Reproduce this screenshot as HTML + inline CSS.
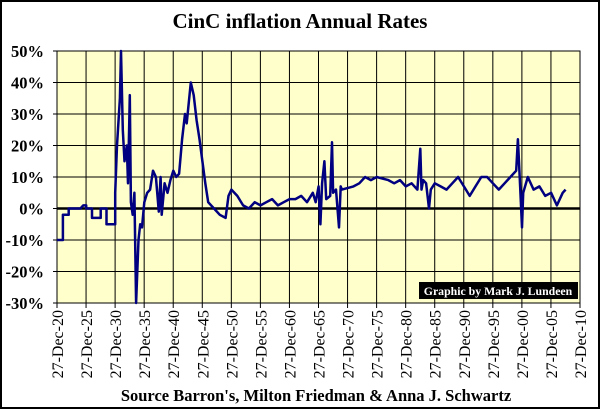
<!DOCTYPE html>
<html><head><meta charset="utf-8"><style>
body{margin:0;background:#fff}
svg text{font-family:"Liberation Serif",serif}
</style></head><body>
<svg width="600" height="409" xmlns="http://www.w3.org/2000/svg">
<rect x="1" y="1" width="598" height="407" fill="#fff" stroke="#000" stroke-width="2"/>
<text x="300" y="28" text-anchor="middle" font-size="21" font-weight="bold">CinC inflation Annual Rates</text>
<g id="plot"></g>
<text x="316" y="401" text-anchor="middle" font-size="16.5" font-weight="bold">Source Barron's,  Milton Friedman &amp; Anna J. Schwartz</text>
</svg>
<script>
const years=[1920.98,1922,1922,1923,1923,1925,1925.5,1926,1926,1927,1927,1928.5,1928.5,1929.5,1929.5,1931,1931,1931.3,1931.8,1932,1932.3,1932.6,1933,1933.2,1933.5,1933.7,1934,1934.3,1934.6,1935,1935.3,1935.6,1936,1936.5,1937,1937.5,1938,1938.5,1938.8,1939,1939.5,1940,1940.5,1941,1941.5,1942,1942.5,1943,1943.3,1944,1944.5,1945,1945.5,1946,1946.5,1947,1948,1949,1950,1950.5,1951,1952,1953,1954,1955,1956,1957,1958,1959,1960,1961,1962,1963,1964,1965,1965.5,1966,1966.3,1966.6,1967,1967.3,1968,1968.3,1968.5,1969,1969.5,1969.8,1970,1972,1973,1974,1975,1976,1978,1979,1980,1981,1982,1983,1983.5,1983.7,1984,1984.5,1985,1985.3,1986,1987,1988,1989,1990,1991,1992,1993,1994,1995,1996,1997,1998,1999,2000,2000.3,2000.6,2001,2001.2,2002,2003,2004,2005,2006,2007,2008,2008.5];
const rates=[-10,-10,-2,-2,0,0,1,1,0,0,-3,-3,0,0,-5,-5,5,20,35,50,25,15,20,8,36,2,-2,5,-30,-10,-5,-6,2,5,6,12,10,-1,10,-2,8,5,9,12,10,11,22,30,27,40,36,28,22,15,8,2,0,-2,-3,4,6,4,1,0,2,1,2,3,1,2,3,3,4,2,5,2,7,-5,8,15,3,4,21,5,6,-6,7,6,7,8,10,9,10,9,8,9,7,8,6,19,6,9,8,0,6,8,7,6,8,10,7,4,7,10,10,8,6,8,10,12,22,10,-6,5,10,6,7,4,5,1,5,6];
const yTicks=[50,40,30,20,10,0,-10,-20,-30];
const xTickYears=[1920,1925,1930,1935,1940,1945,1950,1955,1960,1965,1970,1975,1980,1985,1990,1995,2000,2005,2010];
const L=57,R=580,T=51,B=303;
const X=y=>L+(y-1920.98)/90*(R-L);
const Y=v=>T+(50-v)/80*(B-T);
const NS="http://www.w3.org/2000/svg";
const g=document.getElementById('plot');
function mk(t,a){const e=document.createElementNS(NS,t);for(const k in a)e.setAttribute(k,a[k]);g.appendChild(e);return e;}
const bg=mk('rect',{x:L,y:T,width:R-L,height:B-T,fill:'#ffffcc',stroke:'#000','stroke-width':1});


yTicks.forEach(v=>{
 const l=mk('line',{x1:L-4,x2:R,y1:Y(v),y2:Y(v),stroke:'#000','stroke-width':1});
 
 
 const t=mk('text',{x:L-13,y:Y(v)+6,'text-anchor':'end','font-size':16.5,'font-weight':'bold'});
 t.textContent=v+'%';
 
 
});
xTickYears.forEach(yr=>{
 const x=X(yr+0.98);
 const l=mk('line',{x1:x,x2:x,y1:T,y2:B+5,stroke:'#000','stroke-width':1});
 
 
 const t=mk('text',{x:0,y:0,'text-anchor':'end','font-size':16,transform:`translate(${x+6},${B+7}) rotate(-90)`});
 t.textContent='27-Dec-'+String(yr%100).padStart(2,'0');
 
 
});
const z=mk('line',{x1:L,x2:R,y1:Y(0),y2:Y(0),stroke:'#000','stroke-width':2.5});


const p=mk('polyline',{points:years.map((y,i)=>X(y).toFixed(1)+','+Y(rates[i]).toFixed(1)).join(' '),fill:'none',stroke:'#000080','stroke-width':2.5,'stroke-linejoin':'round'});


const cb=mk('rect',{x:419,y:282,width:159,height:17,fill:'#000'});


const ct=mk('text',{x:498,y:295,'text-anchor':'middle','font-size':11.8,'font-weight':'bold',fill:'#fff'});
ct.textContent='Graphic by Mark J. Lundeen';


</script>
</body></html>
